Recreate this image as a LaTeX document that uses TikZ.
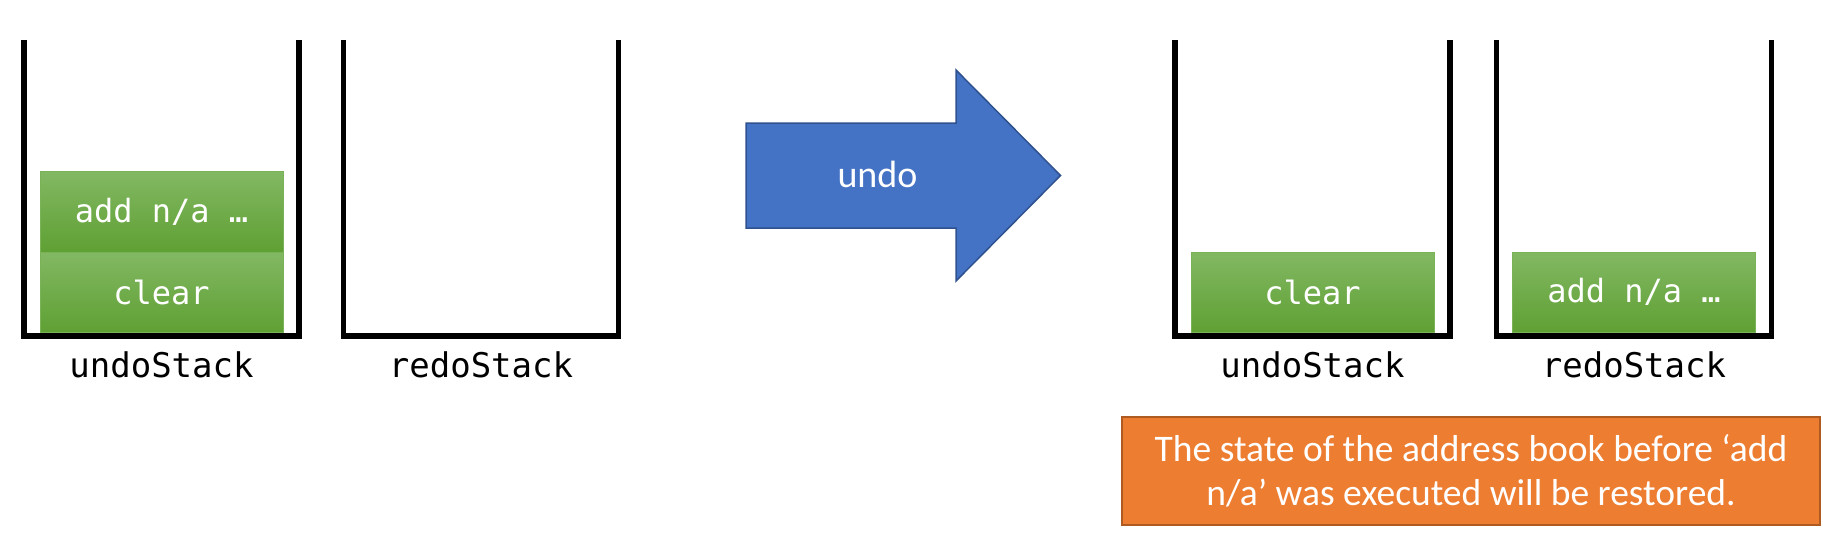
\documentclass[tikz,border=0pt]{standalone}
\usepackage{fontspec}
\setmainfont{Carlito}
\setmonofont{DejaVu Sans Mono}
\usepackage{xcolor}
\definecolor{ink}{HTML}{000000}
\definecolor{cArrowBg}{HTML}{4472C4}
\definecolor{cArrowFr}{HTML}{2F528F}
\definecolor{cNoteBg}{HTML}{ED7D31}
\definecolor{cNoteFr}{HTML}{AE5A21}
\definecolor{cCmdTop}{HTML}{82B863}
\definecolor{cCmdBot}{HTML}{5FA033}
\definecolor{cCmdFr}{HTML}{7AB357}
\usepackage{tikz}
\usetikzlibrary{positioning,calc}
\tikzset{
  stack/.style={minimum width=275pt,minimum height=296pt,inner sep=0pt,outer sep=0pt},
  wall/.style={draw=ink,line width=5.5pt,line join=miter},
  cmd/.style={top color=cCmdTop,bottom color=cCmdBot,draw=cCmdFr,line width=1pt,
    minimum width=243pt,minimum height=80.5pt,inner sep=0pt,outer sep=0pt,text=white,
    font=\ttfamily\fontsize{32}{38}\selectfont},
  lbl/.style={inner sep=0pt,font=\ttfamily\fontsize{34}{40}\selectfont,text=ink},
  bigarrow/.style={fill=cArrowBg,draw=cArrowFr,line width=1.5pt,line join=miter},
  arrowtxt/.style={font=\fontsize{38}{46}\selectfont,text=white,inner sep=0pt},
  note/.style={fill=cNoteBg,draw=cNoteFr,line width=1.5pt,text=white,align=center,
    minimum width=698pt,minimum height=108pt,font=\fontsize{37.5}{44}\selectfont}}
\begin{document}
\begin{tikzpicture}[x=1pt,y=-1pt]
  \useasboundingbox (0,0) rectangle (1823,539);
  \node[stack] (s1) at (161.5,188) {};
  \node[stack] (s2) at (481,188) {};
  \node[stack] (s3) at (1312.5,188) {};
  \node[stack] (s4) at (1634,188) {};
  \foreach \s in {s1,s2,s3,s4}
    \draw[wall] (\s.north west)--(\s.south west)--(\s.south east)--(\s.north east);
  \node[lbl,below=15pt of s1] (u1) {undoStack};
  \node[lbl,below=15pt of s2] (r2) {redoStack};
  \node[lbl,below=15pt of s3] (u3) {undoStack};
  \node[lbl,below=15pt of s4] (r4) {redoStack};
  \node[cmd,above=3.5pt of s1.south] (c1) {clear};
  \node[cmd,above=0pt of c1] (a1) {add n/a …};
  \node[cmd,above=3.5pt of s3.south] (c3) {clear};
  \node[cmd,above=3.5pt of s4.south] (a4) {add n/a …};
  \draw[bigarrow] (746,123)--(956,123)--(956,70)--(1060.5,175.5)--(956,281)--(956,228)--(746,228)--cycle;
  \node[arrowtxt,anchor=base] (undo) at (877.5,187) {undo};
  \node[note] (state) at (1471,471) {The state of the address book before ‘add\\n/a’ was executed will be restored.};
\end{tikzpicture}
\end{document}
